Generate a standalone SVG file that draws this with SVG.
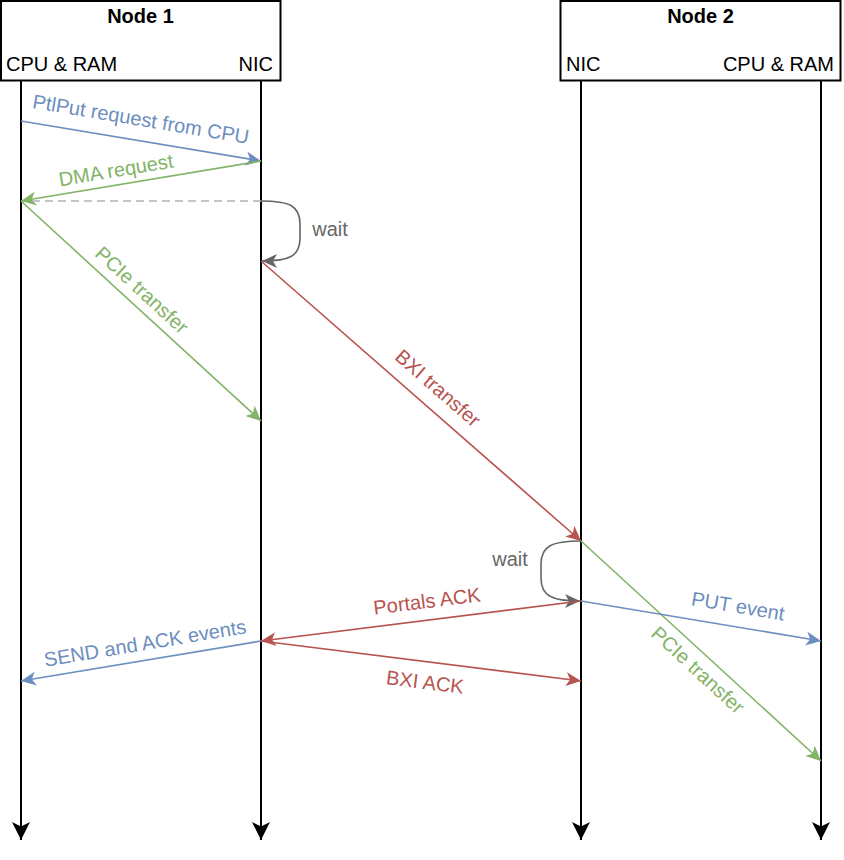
<svg xmlns="http://www.w3.org/2000/svg" width="844" height="860" viewBox="0 0 844 860">
<style>
text{font-family:"Liberation Sans",Arial,Helvetica,sans-serif;font-size:20px}
.hdr{font-weight:bold;text-anchor:middle}
.lbl{text-anchor:middle;dominant-baseline:central}
.box{fill:#fff;stroke:#000;stroke-width:2}
.life{stroke:#000;stroke-width:2;fill:none}
.c{fill:none;stroke-width:1.6}
.blue{stroke:#6c8ebf}.green{stroke:#82b366}.red{stroke:#b85450}.grey{stroke:#666666}
.tblue{fill:#6c8ebf}.tgreen{fill:#82b366}.tred{fill:#b85450}.tgrey{fill:#666666}
</style>
<defs>
<marker id="aBlack" markerUnits="userSpaceOnUse" viewBox="0 0 18 18" refX="18" refY="9" markerWidth="18" markerHeight="18" orient="auto"><path d="M0,0 L18,9 L0,18 L4.5,9 Z" fill="#000"/></marker>
<marker id="aBlue" markerUnits="userSpaceOnUse" viewBox="0 0 15 14" refX="15" refY="7" markerWidth="15" markerHeight="14" orient="auto"><path d="M0,0 L15,7 L0,14 L4,7 Z" fill="#6c8ebf"/></marker>
<marker id="aGreen" markerUnits="userSpaceOnUse" viewBox="0 0 15 14" refX="15" refY="7" markerWidth="15" markerHeight="14" orient="auto"><path d="M0,0 L15,7 L0,14 L4,7 Z" fill="#82b366"/></marker>
<marker id="aRed" markerUnits="userSpaceOnUse" viewBox="0 0 15 14" refX="15" refY="7" markerWidth="15" markerHeight="14" orient="auto"><path d="M0,0 L15,7 L0,14 L4,7 Z" fill="#b85450"/></marker>
<marker id="aGrey" markerUnits="userSpaceOnUse" viewBox="0 0 15 14" refX="15" refY="7" markerWidth="15" markerHeight="14" orient="auto"><path d="M0,0 L15,7 L0,14 L4,7 Z" fill="#666666"/></marker>
</defs>
<rect width="844" height="860" fill="#fff"/>
<g id="node1">
<rect class="box" x="1" y="1" width="279.5" height="79.5"/>
<text class="hdr" x="140.5" y="23">Node 1</text>
<text x="6" y="71">CPU &amp; RAM</text>
<text x="273" y="71" text-anchor="end">NIC</text>
</g>
<g id="node2">
<rect class="box" x="560.5" y="1" width="280" height="79.5"/>
<text class="hdr" x="700.5" y="23">Node 2</text>
<text x="566" y="71">NIC</text>
<text x="834" y="71" text-anchor="end">CPU &amp; RAM</text>
</g>
<g id="lifelines">
<line class="life" x1="21" y1="81" x2="21" y2="840" marker-end="url(#aBlack)"/>
<line class="life" x1="261" y1="81" x2="261" y2="840" marker-end="url(#aBlack)"/>
<line class="life" x1="581" y1="81" x2="581" y2="840" marker-end="url(#aBlack)"/>
<line class="life" x1="821" y1="81" x2="821" y2="840" marker-end="url(#aBlack)"/>
</g>
<g id="connectors">
<line class="c blue" x1="21" y1="121" x2="261" y2="161" marker-end="url(#aBlue)"/>
<line class="c green" x1="261" y1="161" x2="21" y2="201" marker-end="url(#aGreen)"/>
<line class="c" stroke="#b3b3b3" stroke-dasharray="8 5" x1="261" y1="201" x2="28" y2="201"/>
<path class="c grey" d="M261,201 C290,201 300,206 300,224 L300,238 C300,256 290,261 262,261" marker-end="url(#aGrey)"/>
<line class="c green" x1="21" y1="201" x2="261" y2="421" marker-end="url(#aGreen)"/>
<line class="c red" x1="261" y1="261" x2="581" y2="541" marker-end="url(#aRed)"/>
<path class="c grey" d="M581,541 C552,541 541,546 541,564 L541,578 C541,596 552,601 580,601" marker-end="url(#aGrey)"/>
<line class="c green" x1="581" y1="541" x2="821" y2="761" marker-end="url(#aGreen)"/>
<line class="c blue" x1="581" y1="601" x2="821" y2="641" marker-end="url(#aBlue)"/>
<line class="c red" x1="581" y1="601" x2="261" y2="641" marker-end="url(#aRed)"/>
<line class="c red" x1="261" y1="641" x2="581" y2="681" marker-end="url(#aRed)"/>
<line class="c blue" x1="261" y1="641" x2="21" y2="681" marker-end="url(#aBlue)"/>
</g>
<g id="labels">
<text class="lbl tblue" x="141" y="119" transform="rotate(9.46 141 119)">PtlPut request from CPU</text>
<text class="lbl tgreen" x="116" y="170" transform="rotate(-9.46 116 170)">DMA request</text>
<text class="lbl tgrey" x="330" y="229">wait</text>
<text class="lbl tgreen" x="142" y="290" transform="rotate(42.51 142 290)">PCIe transfer</text>
<text class="lbl tred" x="438" y="388" transform="rotate(41.19 438 388)">BXI transfer</text>
<text class="lbl tgrey" x="510" y="559">wait</text>
<text class="lbl tred" x="427" y="601" transform="rotate(-7.13 427 601)">Portals ACK</text>
<text class="lbl tblue" x="738" y="606" transform="rotate(9.46 738 606)">PUT event</text>
<text class="lbl tblue" x="145" y="643" transform="rotate(-9.46 145 643)">SEND and ACK events</text>
<text class="lbl tred" x="425" y="682" transform="rotate(7.13 425 682)">BXI ACK</text>
<text class="lbl tgreen" x="698" y="670" transform="rotate(42.51 698 670)">PCIe transfer</text>
</g>
</svg>
